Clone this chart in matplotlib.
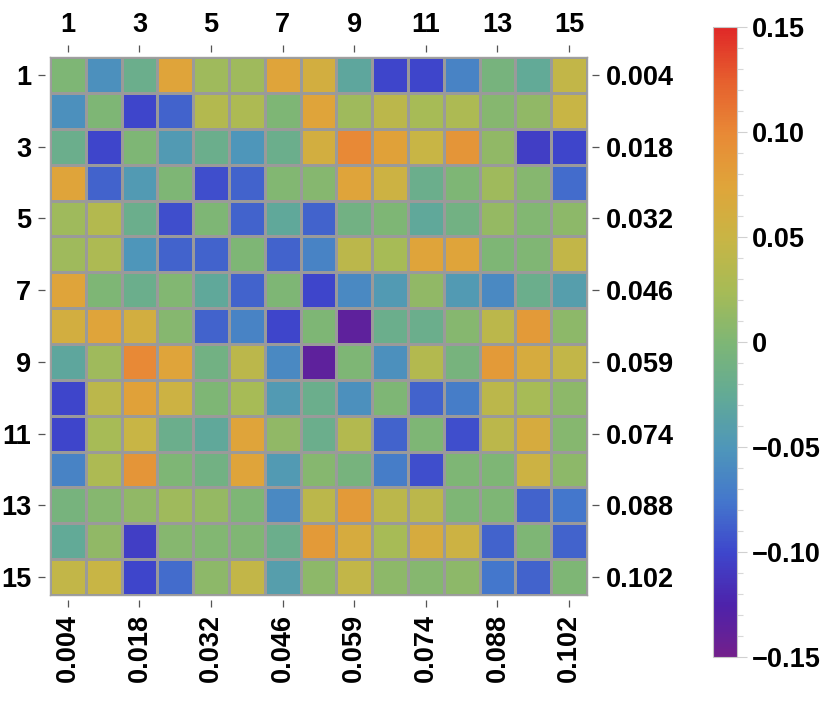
import numpy as np
import matplotlib
matplotlib.use('Agg')
import matplotlib.pyplot as plt
from matplotlib.colors import LinearSegmentedColormap
from matplotlib.ticker import MultipleLocator

plt.rcParams['font.family'] = ['Liberation Sans', 'DejaVu Sans']
plt.rcParams['font.weight'] = 'bold'

# matrix values (symmetric), rows 1..15
values = [
    [0.000, -0.055, -0.017, 0.075, 0.020, 0.020, 0.075, 0.060, -0.030, -0.100, -0.100, -0.065, -0.005, -0.025, 0.045],
    [-0.055, 0.000, -0.100, -0.085, 0.035, 0.030, 0.000, 0.075, 0.020, 0.040, 0.025, 0.030, 0.005, 0.012, 0.050],
    [-0.017, -0.100, 0.000, -0.045, -0.017, -0.050, -0.017, 0.060, 0.100, 0.078, 0.050, 0.090, 0.012, -0.105, -0.100],
    [0.075, -0.085, -0.045, 0.000, -0.095, -0.085, 0.003, 0.005, 0.075, 0.055, -0.017, 0.000, 0.020, 0.005, -0.080],
    [0.020, 0.035, -0.017, -0.095, 0.000, -0.085, -0.028, -0.085, -0.010, 0.000, -0.028, -0.010, 0.015, 0.003, 0.010],
    [0.020, 0.030, -0.050, -0.085, -0.085, 0.000, -0.085, -0.065, 0.040, 0.025, 0.075, 0.075, 0.000, 0.002, 0.045],
    [0.075, 0.000, -0.017, 0.003, -0.028, -0.085, 0.000, -0.100, -0.060, -0.045, 0.012, -0.045, -0.060, -0.017, -0.040],
    [0.060, 0.075, 0.060, 0.005, -0.085, -0.065, -0.100, 0.000, -0.135, -0.017, -0.017, 0.005, 0.040, 0.085, 0.010],
    [-0.030, 0.020, 0.100, 0.075, -0.010, 0.040, -0.060, -0.135, 0.000, -0.055, 0.035, -0.005, 0.085, 0.065, 0.045],
    [-0.100, 0.040, 0.078, 0.055, 0.000, 0.025, -0.045, -0.017, -0.055, 0.000, -0.085, -0.070, 0.040, 0.025, 0.010],
    [-0.100, 0.025, 0.050, -0.017, -0.028, 0.075, 0.012, -0.017, 0.035, -0.085, 0.000, -0.095, 0.040, 0.065, 0.005],
    [-0.065, 0.030, 0.090, 0.000, -0.010, 0.075, -0.045, 0.005, -0.005, -0.070, -0.095, 0.000, 0.000, 0.055, 0.010],
    [-0.005, 0.005, 0.012, 0.020, 0.015, 0.000, -0.060, 0.040, 0.085, 0.040, 0.040, 0.000, 0.000, -0.085, -0.075],
    [-0.025, 0.012, -0.105, 0.005, 0.003, 0.002, -0.017, 0.085, 0.065, 0.025, 0.065, 0.055, -0.085, 0.000, -0.085],
    [0.045, 0.050, -0.100, -0.080, 0.010, 0.045, -0.040, 0.010, 0.045, 0.010, 0.005, 0.010, -0.075, -0.085, 0.000],
]
index_labels = ['1', '3', '5', '7', '9', '11', '13', '15']
scale_labels = ['0.004', '0.018', '0.032', '0.046', '0.059', '0.074', '0.088', '0.102']
cbar_ticks = [-0.15, -0.10, -0.05, 0, 0.05, 0.10, 0.15]
cbar_labels = ['\u22120.15', '\u22120.10', '\u22120.05', '0', '0.05', '0.10', '0.15']

cmap = LinearSegmentedColormap.from_list('darkrainbow', [
    (0.000, '#74208a'),
    (0.083, '#4e22aa'),
    (0.167, '#3e46cc'),
    (0.250, '#4477cc'),
    (0.333, '#4e96ba'),
    (0.417, '#62aa96'),
    (0.500, '#7db676'),
    (0.583, '#a6bb56'),
    (0.667, '#c8b545'),
    (0.750, '#dfa53a'),
    (0.833, '#e88a36'),
    (0.917, '#e6602e'),
    (1.000, '#e02a28'),
])

data = np.array(values)
n = data.shape[0]
FS = 19.5

fig = plt.figure(figsize=(8.3, 7.05), dpi=100)
ax = fig.add_axes([0.0602, 0.156, 0.647, 0.763])
mesh = ax.pcolormesh(np.arange(n + 1) + 0.5, np.arange(n + 1) + 0.5, data,
                     cmap=cmap, vmin=-0.15, vmax=0.15,
                     edgecolors='#9a9a9a', linewidth=1.0)
ax.set_xlim(0.5, n + 0.5)
ax.set_ylim(n + 0.5, 0.5)
for s in ax.spines.values():
    s.set_color('#a0a0a0')
    s.set_linewidth(1.0)
ax.set_xticks([])
ax.set_yticks([])

pos = list(range(1, n + 1, 2))
tick_kw = dict(length=5, width=0.9, color='#555555', pad=5)

# ticks sit a little away from the frame, like the original
axt = ax.secondary_xaxis(1.009)
axt.set_xticks(pos)
axt.set_xticklabels(index_labels, fontsize=FS, fontweight='bold')
axt.tick_params(**tick_kw)
axb = ax.secondary_xaxis(-0.009)
axb.set_xticks(pos)
axb.set_xticklabels(scale_labels, rotation=90, fontsize=FS, fontweight='bold')
axb.tick_params(**tick_kw)
axl = ax.secondary_yaxis(-0.009)
axl.set_yticks(pos)
axl.set_yticklabels(index_labels, fontsize=FS, fontweight='bold')
axl.tick_params(**tick_kw)
axr = ax.secondary_yaxis(1.009)
axr.set_yticks(pos)
axr.set_yticklabels(scale_labels, fontsize=FS, fontweight='bold')
axr.tick_params(**tick_kw)
for a in (axt, axb, axl, axr):
    for s in a.spines.values():
        s.set_visible(False)

cax = fig.add_axes([0.859, 0.068, 0.029, 0.894])
cb = fig.colorbar(mesh, cax=cax, ticks=cbar_ticks)
cb.ax.set_yticklabels(cbar_labels, fontsize=FS, fontweight='bold')
cb.ax.yaxis.set_minor_locator(MultipleLocator(0.01))
cb.ax.tick_params(which='major', length=7, width=0.8, color='#d0d0d0', pad=4)
cb.ax.tick_params(which='minor', length=4, width=0.8, color='#d8d8d8')
cb.outline.set_edgecolor('#c8c8c8')
cb.outline.set_linewidth(0.8)
cb.solids.set_edgecolor('face')

fig.savefig('out.png', dpi=100)
